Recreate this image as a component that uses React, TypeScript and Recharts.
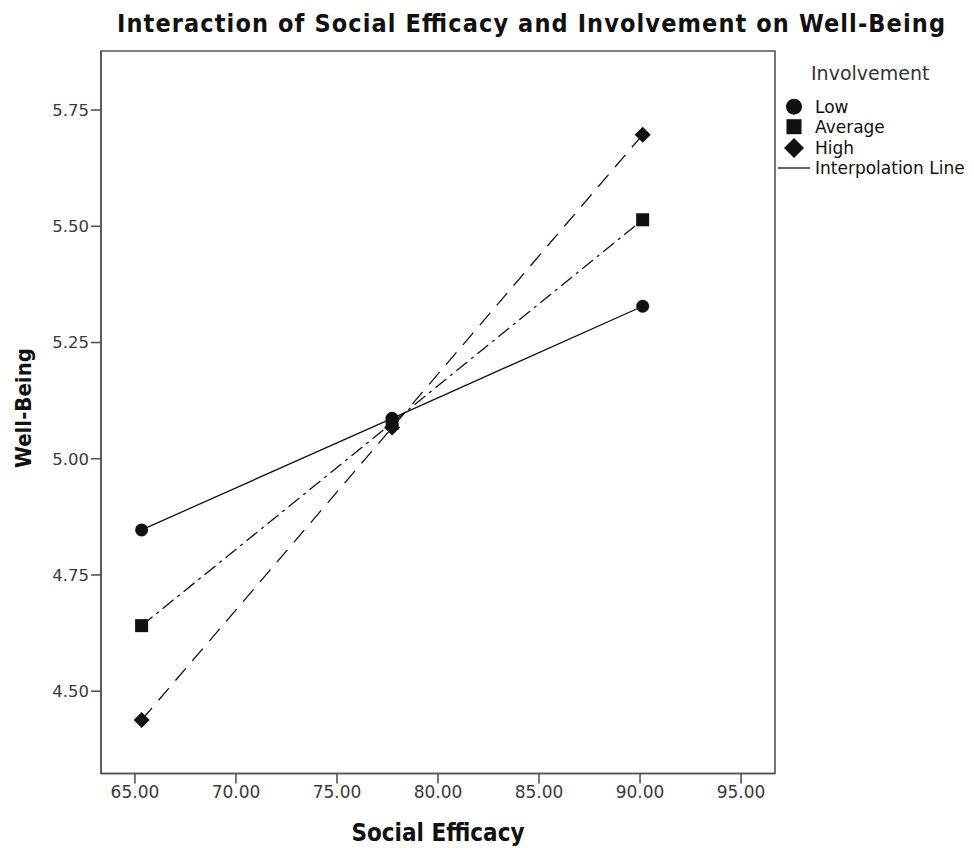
import React from "react";
import {
  LineChart,
  Line,
  XAxis,
  YAxis,
  ReferenceArea,
  Customized,
} from "recharts";

// Social efficacy at mean -1 SD, mean, mean +1 SD
const efficacyLevels = [65.33, 77.73, 90.13];
const lowWellBeing = [4.847, 5.087, 5.328];
const averageWellBeing = [4.641, 5.077, 5.514];
const highWellBeing = [4.438, 5.067, 5.697];

const xTicks = [65, 70, 75, 80, 85, 90, 95];
const yTicks = [4.5, 4.75, 5.0, 5.25, 5.5, 5.75];
const legendItems = ["Low", "Average", "High", "Interpolation Line"];

const X_DOMAIN: [number, number] = [63.32, 96.68];
const Y_DOMAIN: [number, number] = [4.323, 5.877];

const toRows = (values: number[]) =>
  efficacyLevels.map((x, i) => ({ x, y: values[i] }));

const lowData = toRows(lowWellBeing);
const averageData = toRows(averageWellBeing);
const highData = toRows(highWellBeing);

const INK = "#111";
const AXIS = "#555";
const FONT = "'DejaVu Sans', sans-serif";
const CONDENSED = "'DejaVu Sans Condensed', 'DejaVu Sans', sans-serif";

const CircleDot = (props: any) => {
  const { cx, cy, index } = props;
  if (cx == null || cy == null) return <g key={index} />;
  return <circle key={index} cx={cx} cy={cy} r={6.5} fill={INK} />;
};

const SquareDot = (props: any) => {
  const { cx, cy, index } = props;
  if (cx == null || cy == null) return <g key={index} />;
  return <rect key={index} x={cx - 6.5} y={cy - 6.5} width={13} height={13} fill={INK} />;
};

const DiamondDot = (props: any) => {
  const { cx, cy, index } = props;
  if (cx == null || cy == null) return <g key={index} />;
  const r = 8;
  return (
    <polygon
      key={index}
      points={`${cx},${cy - r} ${cx + r},${cy} ${cx},${cy + r} ${cx - r},${cy}`}
      fill={INK}
    />
  );
};

const Annotations = () => {
  const lx = 786;
  const tx = 807;
  const rows = [98.7, 118.7, 140, 160];
  return (
    <g>
      <text
        x={523}
        y={15}
        textAnchor="middle"
        dominantBaseline="central"
        fontFamily={CONDENSED}
        fontWeight="bold"
        fontSize={25}
        textLength={828}
        fill={INK}
      >
        Interaction of Social Efficacy and Involvement on Well-Being
      </text>
      <text
        x={430}
        y={825}
        textAnchor="middle"
        dominantBaseline="central"
        fontFamily={CONDENSED}
        fontWeight="bold"
        fontSize={24}
        fill={INK}
      >
        Social Efficacy
      </text>
      <text
        transform="translate(15,400) rotate(-90)"
        textAnchor="middle"
        dominantBaseline="central"
        fontFamily={CONDENSED}
        fontWeight="bold"
        fontSize={22}
        fill={INK}
      >
        Well-Being
      </text>

      {/* legend */}
      <text x={803} y={65} dominantBaseline="central" fontFamily={FONT} fontSize={19} fill="#333">
        Involvement
      </text>
      <circle cx={lx} cy={rows[0]} r={8} fill={INK} />
      <rect x={lx - 7.5} y={rows[1] - 7.5} width={15} height={15} fill={INK} />
      <polygon
        points={`${lx},${rows[2] - 10} ${lx + 10},${rows[2]} ${lx},${rows[2] + 10} ${lx - 10},${rows[2]}`}
        fill={INK}
      />
      <line x1={770} x2={802} y1={rows[3]} y2={rows[3]} stroke={INK} strokeWidth={1.3} />
      {legendItems.map((label, i) => (
        <text
          key={label}
          x={tx}
          y={rows[i]}
          dominantBaseline="central"
          fontFamily={FONT}
          fontSize={17}
          fill={INK}
        >
          {label}
        </text>
      ))}
    </g>
  );
};

export default function App() {
  return (
    <div style={{ width: 966, height: 840 }}>
      <LineChart
        width={966}
        height={840}
        margin={{ top: 43, right: 199, left: 33, bottom: 34.5 }}
      >
        <XAxis
          type="number"
          dataKey="x"
          domain={X_DOMAIN}
          ticks={xTicks}
          allowDataOverflow
          tickFormatter={(v: number) => v.toFixed(2)}
          height={40}
          tickSize={10}
          stroke={AXIS}
          strokeWidth={1.6}
          tick={{ fill: "#3a3a3a", fontSize: 17, fontFamily: FONT }}
        />
        <YAxis
          type="number"
          domain={Y_DOMAIN}
          ticks={yTicks}
          allowDataOverflow
          tickFormatter={(v: number) => v.toFixed(2)}
          width={60}
          tickSize={10}
          stroke={AXIS}
          strokeWidth={1.6}
          tick={{ fill: "#3a3a3a", fontSize: 16.5, fontFamily: FONT }}
        />
        <ReferenceArea
          x1={X_DOMAIN[0]}
          x2={X_DOMAIN[1]}
          y1={Y_DOMAIN[0]}
          y2={Y_DOMAIN[1]}
          fill="none"
          stroke={AXIS}
          strokeWidth={1.6}
          ifOverflow="visible"
        />
        <Line
          data={lowData}
          dataKey="y"
          type="linear"
          stroke={INK}
          strokeWidth={1.3}
          dot={CircleDot}
          isAnimationActive={false}
        />
        <Line
          data={averageData}
          dataKey="y"
          type="linear"
          stroke={INK}
          strokeWidth={1.3}
          strokeDasharray="14 5 3 5"
          dot={SquareDot}
          isAnimationActive={false}
        />
        <Line
          data={highData}
          dataKey="y"
          type="linear"
          stroke={INK}
          strokeWidth={1.3}
          strokeDasharray="16 10"
          dot={DiamondDot}
          isAnimationActive={false}
        />
        <Customized component={Annotations} />
      </LineChart>
    </div>
  );
}
